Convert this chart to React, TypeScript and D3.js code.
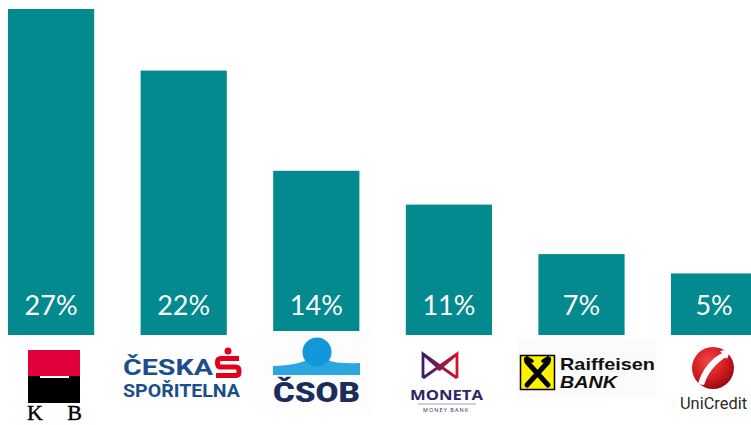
import React from 'react';
import * as d3 from 'd3';

// market share by bank
const banks = ['KB', 'Česká spořitelna', 'ČSOB', 'MONETA', 'Raiffeisen BANK', 'UniCredit'];
const shares = [27, 21.9, 13.6, 10.8, 6.7, 5.1];

const W = 751, H = 425;
const teal = '#028a8f';

const x = d3.scaleBand<string>()
    .domain(banks)
    .range([8, 757.2])
    .paddingInner(0.35)
    .paddingOuter(0);

const y = d3.scaleLinear()
    .domain([0, 27])
    .range([335, 9]);

const fmt = (v: number) => d3.format('.0f')(v) + '%';

const KB = () => (
    <g>
        <rect x={28} y={350} width={52} height={26} fill="#e2003a" />
        <rect x={28} y={376} width={52} height={27} fill="#000" />
        <rect x={40} y={376} width={29} height={2} fill="#fff" />
        <text x={27} y={420} fontFamily="'Liberation Serif', serif" fontSize={22}
              textLength={55} lengthAdjust="spacing" fill="#000" stroke="#000" strokeWidth={0.4}>KB</text>
    </g>
);

const Ceska = () => (
    <g fontFamily="Roboto, 'Liberation Sans', sans-serif" fontWeight={700} fill="#1a4f8c">
        <text x={123} y={375} fontSize={22} textLength={90} lengthAdjust="spacingAndGlyphs">ČESKA</text>
        <text x={123} y={397} fontSize={19} textLength={117} lengthAdjust="spacingAndGlyphs">SPOŘITELNA</text>
        <circle cx={228} cy={351} r={3.5} fill="#e3001b" />
        <path d="M239 358.5 H221 Q217.5 358.5 217.5 362 V363.5 Q217.5 367 221 367 H235.5 Q239 367 239 370.5 V372 Q239 375.5 235.5 375.5 H216"
              fill="none" stroke="#e3001b" strokeWidth={5} />
    </g>
);

const Csob = () => (
    <g>
        <rect x={255} y={331} width={117} height={82} fill="#fdfdfd" />
        <path d="M273 366 Q298 365 306 360 Q311 357 317 357 Q323 357 328 360 Q336 364 360 363 V375 H273 Z" fill="#2ba6e1" />
        <circle cx={317} cy={352} r={14.5} fill="#1396da" />
        <text x={273} y={402} fontFamily="Roboto, 'Liberation Sans', sans-serif" fontWeight={900}
              fontSize={28} textLength={87} lengthAdjust="spacingAndGlyphs" fill="#1c2d5c">ČSOB</text>
    </g>
);

const Moneta = () => (
    <g>
        <defs>
            <linearGradient id="mon" x1="0" y1="0" x2="1" y2="0">
                <stop offset="0" stopColor="#34206a" />
                <stop offset="1" stopColor="#d3122f" />
            </linearGradient>
        </defs>
        <path d="M423 378 V354 L441 370 M457 378 V354 L438 370 M423 354 L457 378 M457 354 L423 378"
              fill="none" stroke="url(#mon)" strokeWidth={2.8} />
        <text x={446.5} y={400} textAnchor="middle" fontFamily="'Open Sans', sans-serif" fontWeight={700}
              fontSize={14} textLength={73} lengthAdjust="spacingAndGlyphs" fill="#2f2464">MONETA</text>
        <line x1={418} x2={476} y1={404} y2={404} stroke="#8d82ad" strokeWidth={0.8} />
        <text x={445.5} y={412} textAnchor="middle" fontFamily="'Open Sans', sans-serif"
              fontSize={5.5} textLength={45} lengthAdjust="spacing" fill="#2f2464">MONEY BANK</text>
    </g>
);

const Raiffeisen = () => (
    <g>
        <rect x={518} y={338} width={139} height={59} fill="#fbfbfb" />
        <rect x={520.5} y={355.5} width={34} height={34} fill="#fff200" stroke="#000" strokeWidth={1.5} />
        <path d="M527 385 L548 362 M548 385 L527 362" stroke="#000" strokeWidth={5} strokeLinecap="round" />
        <path d="M527 362 Q524 359 527 358 L532 361 M548 362 Q551 359 548 358 L543 361"
              stroke="#000" strokeWidth={3.5} fill="none" strokeLinecap="round" />
        <text x={560} y={370} fontFamily="'Liberation Sans', Arial, sans-serif" fontWeight={700}
              fontSize={17} textLength={95} lengthAdjust="spacingAndGlyphs" fill="#111">Raiffeisen</text>
        <text x={560} y={388} fontFamily="'Liberation Sans', Arial, sans-serif" fontWeight={700}
              fontStyle="italic" fontSize={16} textLength={57} lengthAdjust="spacingAndGlyphs" fill="#111">BANK</text>
    </g>
);

const UniCredit = () => (
    <g>
        <defs>
            <radialGradient id="uc" cx="0.4" cy="0.35" r="0.7">
                <stop offset="0" stopColor="#f0494a" />
                <stop offset="0.6" stopColor="#d31920" />
                <stop offset="1" stopColor="#8e0a10" />
            </radialGradient>
        </defs>
        <circle cx={713} cy={368} r={21} fill="url(#uc)" />
        <path d="M698 384 Q704 362 724 352 L728 356 Q710 366 704 385 Z" fill="#fff" />
        <path d="M720 351 L731 349 L727 359 Z" fill="#fff" />
        <text x={680} y={409} fontFamily="Roboto, 'Liberation Sans', sans-serif"
              fontSize={17} textLength={67} lengthAdjust="spacingAndGlyphs" fill="#2b2b2b">UniCredit</text>
    </g>
);

const logos = [KB, Ceska, Csob, Moneta, Raiffeisen, UniCredit];

export default function App() {
    return (
        <svg width={W} height={H} style={{position: 'absolute', left: 0, top: 0, background: '#fff'}}>
            {banks.map((b, i) => (
                <rect key={b} x={x(b)} y={y(shares[i])} width={x.bandwidth()}
                      height={y(0) - y(shares[i])} fill={teal} />
            ))}
            {banks.map((b, i) => (
                <text key={'l' + b} x={(x(b) as number) + x.bandwidth() / 2} y={y(0) - 20}
                      textAnchor="middle" fill="#fff" fontSize={27}
                      fontFamily="Lato, 'Open Sans', sans-serif">{fmt(shares[i])}</text>
            ))}
            {logos.map((L, i) => <L key={i} />)}
        </svg>
    );
}
